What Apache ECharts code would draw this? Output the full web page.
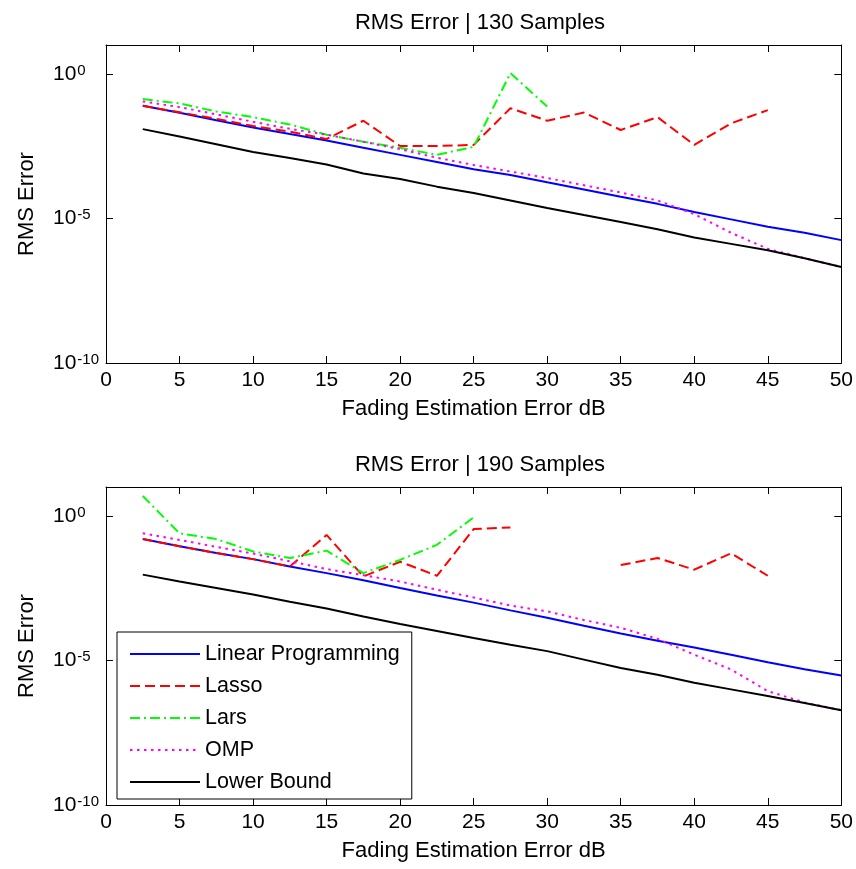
<!DOCTYPE html>
<html>
<head>
<meta charset="utf-8">
<script src="https://cdn.jsdelivr.net/npm/echarts@6/dist/echarts.min.js"></script>
<style>
  html, body { margin: 0; padding: 0; background: #fff; }
  #chart { width: 856px; height: 869px; }
</style>
</head>
<body>
<div id="chart"></div>
<script>
// ---- Data ----
const xValues = [2.5, 5, 7.5, 10, 12.5, 15, 17.5, 20, 22.5, 25, 27.5, 30, 32.5, 35, 37.5, 40, 42.5, 45, 47.5, 50];
const xTicks = [0, 5, 10, 15, 20, 25, 30, 35, 40, 45, 50];
const yTickExponents = [-10, -5, 0];
const seriesNames = ['Linear Programming', 'Lasso', 'Lars', 'OMP', 'Lower Bound'];
const titles = ['RMS Error | 130 Samples', 'RMS Error | 190 Samples'];

// 130 samples
const lp130 = [7.9e-2, 4.5e-2, 2.5e-2, 1.41e-2, 8.3e-3, 5.0e-3, 2.8e-3, 1.58e-3, 8.9e-4, 5.0e-4, 3.2e-4, 1.78e-4, 1.0e-4, 5.6e-5, 3.2e-5, 1.66e-5, 9.3e-6, 5.2e-6, 3.2e-6, 1.78e-6];
const lasso130 = [7.9e-2, 4.7e-2, 2.8e-2, 1.58e-2, 1.0e-2, 5.6e-3, 2.4e-2, 3.2e-3, 3.2e-3, 3.5e-3, 6.5e-2, 2.4e-2, 4.6e-2, 1.15e-2, 3.2e-2, 3.5e-3, 1.95e-2, 5.6e-2, null, null];
const lars130 = [0.135, 9.5e-2, 5.0e-2, 3.2e-2, 1.78e-2, 7.9e-3, 4.5e-3, 2.8e-3, 1.58e-3, 3.0e-3, 1.07, 7.4e-2, null, null, null, null, null, null, null, null];
const omp130 = [0.112, 7.1e-2, 4.0e-2, 2.2e-2, 1.26e-2, 7.9e-3, 4.5e-3, 2.5e-3, 1.26e-3, 7.1e-4, 4.2e-4, 2.5e-4, 1.41e-4, 7.9e-5, 4.2e-5, 1.41e-5, 3.2e-6, 8.9e-7, 4.2e-7, 2.1e-7];
const lower130 = [1.23e-2, 6.8e-3, 3.7e-3, 2.0e-3, 1.23e-3, 7.4e-4, 3.6e-4, 2.3e-4, 1.26e-4, 7.6e-5, 4.2e-5, 2.3e-5, 1.32e-5, 7.6e-6, 4.2e-6, 2.2e-6, 1.32e-6, 7.9e-7, 4.2e-7, 2.1e-7];

// 190 samples
const lp190 = [0.158, 8.9e-2, 5.2e-2, 3.2e-2, 1.78e-2, 1.05e-2, 5.9e-3, 3.2e-3, 1.78e-3, 1.0e-3, 5.4e-4, 3.0e-4, 1.58e-4, 8.5e-5, 4.8e-5, 2.8e-5, 1.58e-5, 8.7e-6, 5.0e-6, 3.0e-6];
const lasso190 = [0.158, 8.9e-2, 5.2e-2, 3.2e-2, 1.78e-2, 0.22, 8.1e-3, 2.6e-2, 8.5e-3, 0.35, 0.40, null, null, 2.0e-2, 3.5e-2, 1.38e-2, 5.1e-2, 8.5e-3, null, null];
const lars190 = [4.9, 0.25, 0.158, 5.9e-2, 3.5e-2, 6.3e-2, 1.05e-2, 3.0e-2, 0.10, 0.89, null, null, null, null, null, null, null, null, null, null];
const omp190 = [0.25, 0.148, 8.5e-2, 5.0e-2, 2.7e-2, 1.45e-2, 8.9e-3, 5.4e-3, 2.8e-3, 1.51e-3, 7.9e-4, 5.0e-4, 2.5e-4, 1.35e-4, 5.6e-5, 1.58e-5, 4.9e-6, 8.7e-7, 3.5e-7, 1.9e-7];
const lower190 = [9.3e-3, 5.4e-3, 3.2e-3, 1.9e-3, 1.07e-3, 6.3e-4, 3.3e-4, 1.82e-4, 1.05e-4, 6.0e-5, 3.5e-5, 2.1e-5, 1.07e-5, 5.5e-6, 3.2e-6, 1.7e-6, 1.0e-6, 5.9e-7, 3.4e-7, 1.9e-7];

const panels = [
  [lp130, lasso130, lars130, omp130, lower130],
  [lp190, lasso190, lars190, omp190, lower190]
];

// ---- Styles ----
const FONT = 'Liberation Sans';
const colors = ['#0000ff', '#ff0000', '#00ff00', '#ff00ff', '#000000'];
const dashes = ['solid', [10, 5], [10, 4, 2, 4], [2.5, 4.5], 'solid'];
const gridTops = [45, 487];
const gridHeight = 318;

function supLabel(v) {
  const e = Math.round(Math.log10(v));
  if (yTickExponents.indexOf(e) < 0) return '';
  return '{b|10}{s|' + e + '}';
}

const grids = [], xAxes = [], yAxes = [], series = [], titleOpts = [];
gridTops.forEach(function (top, gi) {
  grids.push({ left: 106, width: 738, top: top, height: gridHeight, show: false });
  titleOpts.push({
    text: titles[gi], left: 475, top: top - 38, textAlign: 'center',
    textStyle: { fontFamily: FONT, fontSize: 22, fontWeight: 'normal', color: '#000' }
  });
  const axisLine = { show: true, onZero: false, lineStyle: { color: '#000', width: 1 } };
  const tick = { show: true, inside: true, length: 7, lineStyle: { color: '#000' } };
  // bottom x axis
  xAxes.push({
    type: 'value', gridIndex: gi, min: 0, max: 50, interval: 5, position: 'bottom',
    axisLine: axisLine, axisTick: tick, splitLine: { show: false },
    axisLabel: { fontFamily: FONT, fontSize: 21, color: '#000', margin: 7 },
    name: 'Fading Estimation Error dB', nameLocation: 'middle', nameGap: 35,
    nameTextStyle: { fontFamily: FONT, fontSize: 22, color: '#000' }
  });
  // top x axis (box + mirrored ticks)
  xAxes.push({
    type: 'value', gridIndex: gi, min: 0, max: 50, interval: 5, position: 'top',
    axisLine: axisLine, axisTick: tick, splitLine: { show: false }, axisLabel: { show: false }
  });
  // left y axis
  yAxes.push({
    type: 'log', logBase: 10, gridIndex: gi, min: 1e-10, max: 10, interval: 5, position: 'left',
    axisLine: axisLine, axisTick: tick, splitLine: { show: false }, minorTick: { show: false },
    axisLabel: {
      margin: 53, align: 'left', formatter: supLabel, color: '#000',
      rich: {
        b: { fontFamily: FONT, fontSize: 21, color: '#000', lineHeight: 22, padding: [8, 0, 8, 0] },
        s: { fontFamily: FONT, fontSize: 15, color: '#000', lineHeight: 15, verticalAlign: 'top', padding: [0, 0, 0, 1] }
      }
    },
    name: 'RMS Error', nameLocation: 'middle', nameGap: 68,
    nameTextStyle: { fontFamily: FONT, fontSize: 22, color: '#000' }
  });
  // right y axis (box + mirrored ticks)
  yAxes.push({
    type: 'log', logBase: 10, gridIndex: gi, min: 1e-10, max: 10, interval: 5, position: 'right',
    axisLine: axisLine, axisTick: tick, splitLine: { show: false }, axisLabel: { show: false }
  });
  panels[gi].forEach(function (vals, si) {
    series.push({
      name: seriesNames[si], type: 'line',
      xAxisIndex: gi * 2, yAxisIndex: gi * 2,
      data: xValues.map(function (x, i) { return [x, vals[i]]; }),
      symbol: 'none', showSymbol: false, connectNulls: false, animation: false,
      color: colors[si],
      lineStyle: { color: colors[si], width: 2, type: dashes[si] },
      z: 2 + si
    });
  });
});

const chart = echarts.init(document.getElementById('chart'), null, { renderer: 'canvas' });
chart.setOption({
  backgroundColor: '#fff',
  animation: false,
  title: titleOpts,
  grid: grids,
  xAxis: xAxes,
  yAxis: yAxes,
  legend: {
    orient: 'vertical', left: 117, top: 632,
    data: seriesNames,
    backgroundColor: '#fff', borderColor: '#000', borderWidth: 1,
    padding: [11, 12, 6, 12], itemGap: 10, itemWidth: 70, itemHeight: 14,
    itemStyle: { opacity: 0 },
    textStyle: { fontFamily: FONT, fontSize: 21.5, color: '#000', lineHeight: 22 }
  },
  series: series
});
</script>
</body>
</html>
